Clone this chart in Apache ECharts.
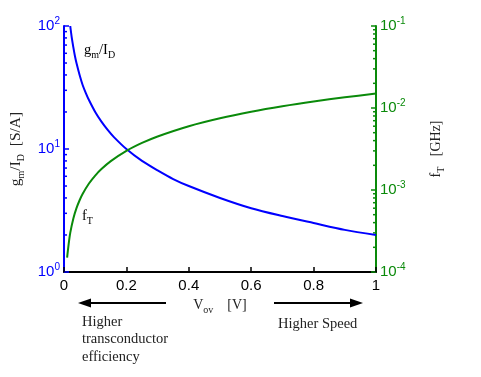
<!DOCTYPE html>
<html>
<head>
<meta charset="utf-8">
<script src="https://cdn.jsdelivr.net/npm/echarts@6/dist/echarts.min.js"></script>
<style>
  html, body { margin: 0; padding: 0; background: #fff; }
  #chart { width: 481px; height: 377px; }
</style>
</head>
<body>
<div id="chart"></div>
<script>
// values
const vovGm = [0.02, 0.025, 0.03, 0.035, 0.04, 0.05, 0.06, 0.07, 0.08, 0.1, 0.12, 0.14, 0.16, 0.2, 0.25, 0.3, 0.35, 0.4, 0.5, 0.6, 0.7, 0.8, 0.9, 1.0]
const gmId = [100, 80, 67, 57, 50, 40, 33, 28.5, 25, 20, 16.7, 14.3, 12.5, 10, 8, 6.7, 5.7, 5, 4, 3.3, 2.85, 2.5, 2.2, 2.0]
const vovFt = [0.01, 0.015, 0.02, 0.03, 0.04, 0.05, 0.06, 0.08, 0.1, 0.12, 0.15, 0.2, 0.25, 0.3, 0.4, 0.5, 0.6, 0.7, 0.8, 0.9, 1.0]
const fT = [1.5e-4, 2.2e-4, 3e-4, 4.5e-4, 6e-4, 7.5e-4, 9e-4, 1.2e-3, 1.5e-3, 1.8e-3, 2.25e-3, 3e-3, 3.75e-3, 4.5e-3, 6e-3, 7.5e-3, 9e-3, 1.05e-2, 1.2e-2, 1.35e-2, 1.5e-2]
const xTicks = [0, 0.2, 0.4, 0.6, 0.8, 1]

const BLUE = '#0000ff'
const GREEN = '#0a8a0a'
const SERIF = '"Liberation Serif", "DejaVu Serif", serif'
const SANS = '"Liberation Sans", Arial, sans-serif'

function pow10Label(v) {
  const e = Math.round(Math.log10(v))
  return '{b|10}{s|' + e + '}'
}
function powRich(color) {
  return {
    b: { fontSize: 15, fontFamily: SANS, color: color, lineHeight: 20 },
    s: { fontSize: 10, fontFamily: SANS, color: color, lineHeight: 10, verticalAlign: 'top' }
  }
}
function subRich(size) {
  return {
    n: { fontSize: size, fontFamily: SERIF, color: '#222', lineHeight: 20 },
    s: { fontSize: 10, fontFamily: SERIF, color: '#222', lineHeight: 10, verticalAlign: 'bottom' }
  }
}

const chart = echarts.init(document.getElementById('chart'))

const option = {
  animation: false,
  grid: { left: 64, right: 105, top: 26, bottom: 105 },
  xAxis: {
    type: 'value', min: 0, max: 1, interval: 0.2,
    axisLine: { lineStyle: { color: '#000', width: 2 } },
    axisTick: { inside: true, length: 5, lineStyle: { color: '#000', width: 1.5 } },
    axisLabel: {
      color: '#000', fontSize: 15, fontFamily: SANS, margin: 6,
      formatter: v => xTicks.includes(+v.toFixed(1)) ? String(+v.toFixed(1)) : ''
    },
    splitLine: { show: false },
    name: '{n|V}{s|ov}{n|    [V]}',
    nameLocation: 'middle', nameGap: 20,
    nameTextStyle: { rich: subRich(14) }
  },
  yAxis: [
    {
      type: 'log', logBase: 10, min: 1, max: 100,
      axisLine: { lineStyle: { color: BLUE, width: 2 } },
      axisTick: { inside: true, length: 5, lineStyle: { color: BLUE, width: 1.5 } },
      axisLabel: { formatter: pow10Label, rich: powRich(BLUE), margin: 4 },
      splitLine: { show: false },
      name: '{n|g}{s|m}{n|/I}{s|D}{n|  [S/A]}',
      nameLocation: 'middle', nameGap: 38, nameRotate: 90,
      nameTextStyle: { rich: subRich(15.5) }
    },
    {
      type: 'log', logBase: 10, min: 1e-4, max: 1e-1,
      position: 'right',
      axisLine: { lineStyle: { color: GREEN, width: 2 } },
      axisTick: { inside: true, length: 5, lineStyle: { color: GREEN, width: 1.5 } },
      axisLabel: { formatter: pow10Label, rich: powRich(GREEN), margin: 4 },
      splitLine: { show: false },
      name: '{n|f}{s|T}{n|   [GHz]}',
      nameLocation: 'middle', nameGap: 50, nameRotate: 90,
      nameTextStyle: { rich: subRich(14) }
    }
  ],
  series: [
    {
      name: 'gm/ID', type: 'line', yAxisIndex: 0, smooth: 0.3, showSymbol: false,
      lineStyle: { color: BLUE, width: 2 },
      data: vovGm.map((x, i) => [x, gmId[i]])
    },
    {
      name: 'fT', type: 'line', yAxisIndex: 1, smooth: 0.3, showSymbol: false,
      lineStyle: { color: GREEN, width: 2 },
      data: vovFt.map((x, i) => [x, fT[i]])
    }
  ]
}
chart.setOption(option)

// log minor ticks and annotations
function logMinorTicks(axisIndex, lo, hi, xPix, dir, color) {
  const out = []
  for (let d = lo; d < hi; d++) {
    for (let k = 2; k <= 9; k++) {
      const y = chart.convertToPixel({ yAxisIndex: axisIndex }, k * Math.pow(10, d))
      out.push({
        type: 'line', silent: true,
        shape: { x1: xPix, y1: y, x2: xPix + dir * 3, y2: y },
        style: { stroke: color, lineWidth: 1.5 }
      })
    }
  }
  return out
}
const x0 = chart.convertToPixel({ xAxisIndex: 0 }, 0)
const x1 = chart.convertToPixel({ xAxisIndex: 0 }, 1)

function arrow(xFrom, xTo, y) {
  const dir = xTo > xFrom ? 1 : -1
  return [
    { type: 'line', silent: true, shape: { x1: xFrom, y1: y, x2: xTo - dir * 10, y2: y }, style: { stroke: '#000', lineWidth: 2 } },
    { type: 'polygon', silent: true, shape: { points: [[xTo, y], [xTo - dir * 13, y - 4.5], [xTo - dir * 13, y + 4.5]] }, style: { fill: '#000' } }
  ]
}

const graphics = []
  .concat(logMinorTicks(0, 0, 2, x0, 1, BLUE))
  .concat(logMinorTicks(1, -4, -1, x1, -1, GREEN))
  .concat(arrow(166, 78, 303))
  .concat(arrow(274, 363, 303))
  .concat([
    { type: 'text', silent: true, left: 84, top: 43, style: { text: '{n|g}{s|m}{n|/I}{s|D}', rich: subRich(14.5) } },
    { type: 'text', silent: true, left: 82, top: 209, style: { text: '{n|f}{s|T}', rich: subRich(14.5) } },
    {
      type: 'text', silent: true, left: 82, top: 313,
      style: { text: 'Higher\ntransconductor\nefficiency', font: '14.5px ' + SERIF, fill: '#222', lineHeight: 17.5 }
    },
    { type: 'text', silent: true, left: 278, top: 317, style: { text: 'Higher Speed', font: '14.5px ' + SERIF, fill: '#222' } }
  ])

chart.setOption({ graphic: graphics })
</script>
</body>
</html>
